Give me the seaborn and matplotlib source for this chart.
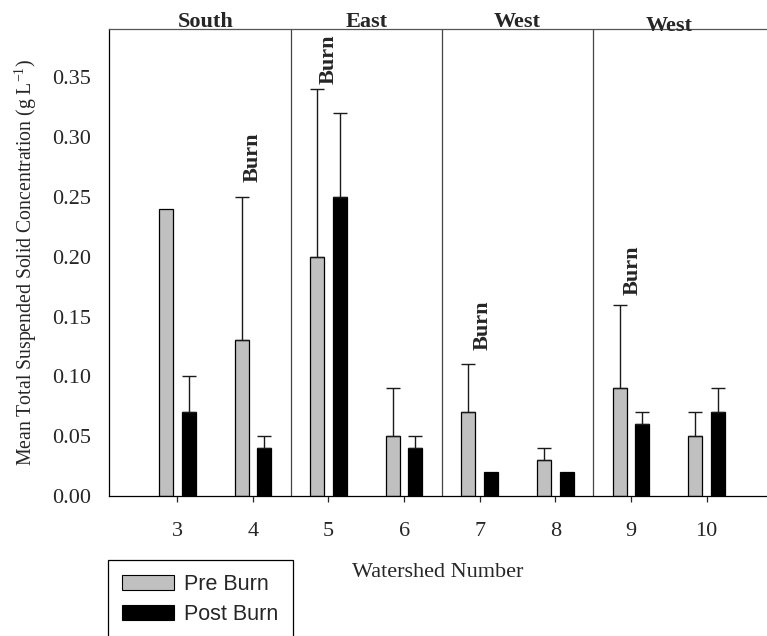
import numpy as np
import pandas as pd
import matplotlib
matplotlib.use("Agg")
import matplotlib.pyplot as plt
from matplotlib.patches import Patch
import seaborn as sns

# ---- data ----
watersheds = ["3", "4", "5", "6", "7", "8", "9", "10"]
pre_burn = [0.24, 0.13, 0.20, 0.05, 0.07, 0.03, 0.09, 0.05]
post_burn = [0.07, 0.04, 0.25, 0.04, 0.02, 0.02, 0.06, 0.07]
pre_upper = [np.nan, 0.25, 0.34, 0.09, 0.11, 0.04, 0.16, 0.07]
post_upper = [0.10, 0.05, 0.32, 0.05, np.nan, np.nan, 0.07, 0.09]
series = ["Pre Burn", "Post Burn"]
colors = ["#c0c0c0", "#000000"]
regions = ["South", "East", "West", "West"]
region_x = [0.38, 2.5, 4.5, 6.5]
region_y = [0.392, 0.392, 0.392, 0.3885]
burn_x = [1.0, 2.0, 4.04, 6.02]
burn_y = [0.262, 0.344, 0.122, 0.168]
separators = [1.5, 3.5, 5.5]
yticks = [0.00, 0.05, 0.10, 0.15, 0.20, 0.25, 0.30, 0.35]

df = pd.DataFrame({
    "Watershed": watersheds * 2,
    "Period": [series[0]] * len(watersheds) + [series[1]] * len(watersheds),
    "Value": pre_burn + post_burn,
})

sns.set_style("white")
plt.rcParams["font.family"] = ["Liberation Serif", "DejaVu Serif"]

fig = plt.figure(figsize=(7.67, 6.36), dpi=100)
ax = fig.add_axes([109 / 767, 1 - 496 / 636, 1 - 109 / 767, (496 - 29.3) / 636])

palette = dict(zip(series, colors))
sns.barplot(data=df, x="Watershed", y="Value", hue="Period", order=watersheds,
            hue_order=series, palette=palette, width=0.6, gap=0.383,
            edgecolor="black", linewidth=0.9, errorbar=None, legend=False,
            saturation=1, ax=ax)

# error bars (upper only)
for cont, vals, ups in zip(ax.containers, [pre_burn, post_burn], [pre_upper, post_upper]):
    xs, ys, es = [], [], []
    for rect, v, u in zip(cont.patches, vals, ups):
        if np.isnan(u):
            continue
        xs.append(rect.get_x() + rect.get_width() / 2)
        ys.append(v)
        es.append(u - v)
    ax.errorbar(xs, ys, yerr=[np.zeros(len(es)), es], fmt="none",
                ecolor="#1a1a1a", elinewidth=1.0, capsize=5, capthick=1.0, zorder=3)

for s in separators:
    ax.axvline(s, color="#444444", lw=0.9, zorder=1)

ax.set_xlim(-0.903, 7.8)
ax.set_ylim(0, 0.390)
ax.set_yticks(yticks)
ax.set_yticklabels([f"{t:.2f}" for t in yticks])
ax.tick_params(axis="y", length=0, pad=13, labelsize=16)
ax.tick_params(axis="x", length=4.5, width=0.9, direction="out", pad=14, labelsize=16,
               bottom=True)

for side in ["left", "bottom"]:
    ax.spines[side].set_color("black")
    ax.spines[side].set_linewidth(0.9)
ax.spines["top"].set_color("#555555")
ax.spines["top"].set_linewidth(0.9)
ax.spines["right"].set_visible(False)

ax.set_xlabel("Watershed Number", fontsize=16, labelpad=16)
ax.set_ylabel(r"Mean Total Suspended Solid Concentration (g L$^{\mathregular{-1}}$)",
              fontsize=14.2, labelpad=9)

for name, x, y in zip(regions, region_x, region_y):
    ax.text(x, y, name, ha="center", va="baseline", fontsize=16, fontweight="bold",
            clip_on=False)
for x, y in zip(burn_x, burn_y):
    ax.text(x, y, "Burn", rotation=90, ha="center", va="bottom", fontsize=16,
            fontweight="bold")

handles = [Patch(facecolor=c, edgecolor="black", linewidth=0.8) for c in colors]
leg = fig.legend(handles, series, loc="upper left",
                 bbox_to_anchor=(108 / 767, 1 - 560 / 636), bbox_transform=fig.transFigure,
                 borderaxespad=0,
                 frameon=True, fancybox=False, edgecolor="black", framealpha=1,
                 prop={"family": "Liberation Sans", "size": 15.5},
                 handlelength=2.4, handleheight=0.7, handletextpad=0.5,
                 borderpad=0.65, labelspacing=0.4)
leg.get_frame().set_linewidth(0.9)

fig.savefig("out.png", dpi=100)
